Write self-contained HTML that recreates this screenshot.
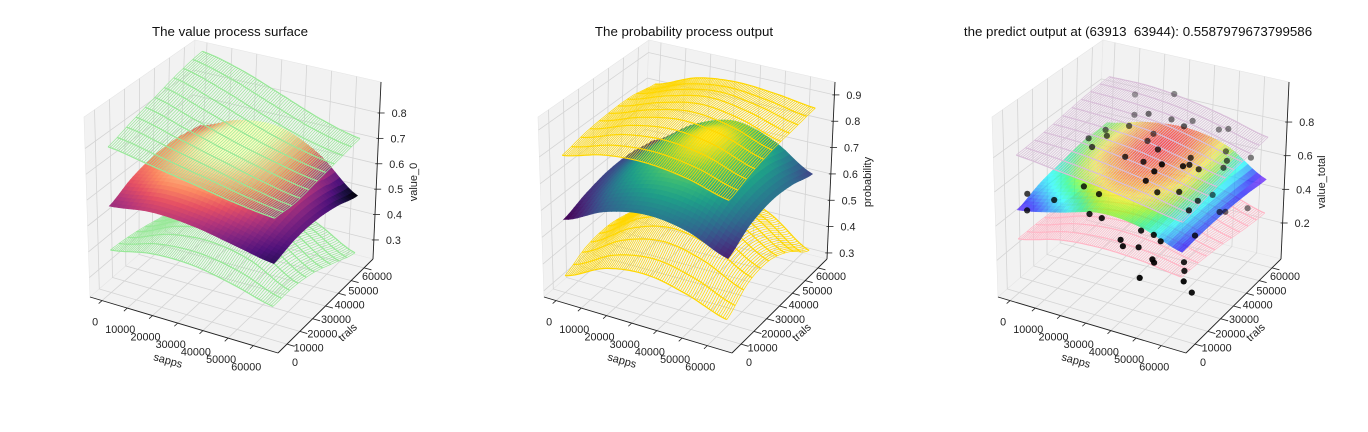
<!DOCTYPE html>
<html><head><meta charset="utf-8"><style>
html,body{margin:0;padding:0;background:#fff;}
svg{display:block;font-family:"Liberation Sans",sans-serif;}
</style></head><body>
<svg id="chart" width="1368" height="432" viewBox="0 0 1368 432"></svg>
<script>
// ---------- data ----------
const SAPPS = [0, 16000, 32000, 48000, 64000];
const TRIALS = [0, 16000, 32000, 48000, 64000];
const X_TICKS = [0, 10000, 20000, 30000, 40000, 50000, 60000];
const Y_TICKS = [0, 10000, 20000, 30000, 40000, 50000, 60000];
const Z_TICKS_1 = [0.3, 0.4, 0.5, 0.6, 0.7, 0.8];
const Z_TICKS_2 = [0.3, 0.4, 0.5, 0.6, 0.7, 0.8, 0.9];
const Z_TICKS_3 = [0.2, 0.4, 0.6, 0.8];
// rows = trials index, cols = sapps index
const P1_MEAN = [[0.56,0.58,0.57,0.54,0.51],[0.60,0.63,0.62,0.58,0.53],[0.62,0.66,0.66,0.61,0.53],[0.62,0.67,0.67,0.61,0.51],[0.60,0.66,0.67,0.60,0.475]];
const P1_UPPER = [[0.79,0.76,0.73,0.70,0.68],[0.82,0.78,0.74,0.70,0.67],[0.85,0.80,0.75,0.71,0.68],[0.88,0.83,0.77,0.72,0.69],[0.90,0.86,0.80,0.74,0.70]];
const P1_LOWER = [[0.39,0.42,0.42,0.39,0.35],[0.38,0.44,0.46,0.43,0.35],[0.36,0.43,0.46,0.42,0.33],[0.33,0.40,0.43,0.38,0.29],[0.30,0.36,0.38,0.33,0.25]];
const P2_MEAN = [[0.55,0.62,0.65,0.63,0.57],[0.58,0.67,0.71,0.69,0.62],[0.60,0.70,0.75,0.72,0.64],[0.60,0.70,0.76,0.72,0.63],[0.58,0.68,0.73,0.69,0.60]];
const P2_UPPER = [[0.79,0.83,0.84,0.82,0.78],[0.81,0.86,0.88,0.86,0.81],[0.82,0.87,0.90,0.88,0.83],[0.82,0.87,0.90,0.88,0.84],[0.80,0.86,0.88,0.87,0.85]];
const P2_LOWER = [[0.34,0.41,0.43,0.40,0.35],[0.38,0.47,0.51,0.48,0.41],[0.39,0.49,0.53,0.50,0.42],[0.37,0.47,0.51,0.47,0.38],[0.33,0.42,0.46,0.41,0.31]];
const P3_MEAN = [[0.47,0.52,0.58,0.56,0.48],[0.52,0.58,0.62,0.59,0.49],[0.55,0.62,0.65,0.61,0.49],[0.57,0.63,0.66,0.61,0.48],[0.57,0.63,0.65,0.60,0.46]];
const P3_UPPER = [[0.79,0.76,0.73,0.69,0.65],[0.80,0.79,0.76,0.72,0.67],[0.82,0.81,0.79,0.74,0.69],[0.84,0.83,0.81,0.76,0.70],[0.85,0.85,0.82,0.77,0.71]];
const P3_LOWER = [[0.30,0.36,0.38,0.37,0.34],[0.30,0.37,0.40,0.38,0.33],[0.29,0.37,0.40,0.37,0.31],[0.28,0.35,0.38,0.35,0.28],[0.27,0.33,0.36,0.33,0.26]];
const OBS_SAPPS = [14440,29960,18610,28300,33290,37610,24890,15730,42300,44190,47900,13310,20420,32160,30420,18830,40330,51230,31700,38820,49190,55620,57370,49870,52670,54110,52450,54410,46990,43740,21860,27690,44350,48960,50480,1880,12320,52450,3770,26030,30790,52900,42150,47150,49870,55550,38140,39050,43210,53500,53810,56910,48660,49340,55320,55550,45710,59180,60550];
const OBS_TRIALS = [56760,56760,49190,41620,49190,56760,34050,34050,41620,64330,64330,26480,26480,34050,41620,18910,26480,56760,18910,18910,34050,49190,64330,11340,26480,18910,34050,49190,11340,11340,7560,7560,18910,26480,49190,3770,3770,34050,0,3770,3770,26480,11340,11340,11340,26480,3770,3770,7560,49190,52980,64330,7560,7560,18910,18910,3770,11340,15130];
const OBS_VALUE = [0.840,0.898,0.783,0.873,0.808,0.764,0.838,0.781,0.849,0.684,0.701,0.771,0.812,0.776,0.762,0.789,0.805,0.631,0.780,0.777,0.739,0.643,0.563,0.852,0.761,0.808,0.684,0.597,0.801,0.735,0.644,0.622,0.621,0.590,0.423,0.547,0.552,0.500,0.482,0.525,0.520,0.498,0.442,0.437,0.411,0.362,0.424,0.391,0.376,0.333,0.309,0.260,0.328,0.312,0.260,0.211,0.236,0.218,0.133];

// ---------- geometry (styles) ----------
const XLIM = [-4800, 69800], YLIM = [-7000, 67000];
const C = {c000:[90,297],c100:[278,353],c110:[373,259],c010:[188,212],c001:[84,117],c101:[282,165],c111:[381,82],c011:[195,40]};
const NS = 'http://www.w3.org/2000/svg';
const svg = document.getElementById('chart');

function el(tag, attrs, name, parent){
  const e = document.createElementNS(NS, tag);
  for (const k in attrs) e.setAttribute(k, attrs[k]);
  
  
  (parent || svg).appendChild(e);
  return e;
}
function lerp(a,b,t){return [a[0]+(b[0]-a[0])*t, a[1]+(b[1]-a[1])*t];}
function proj(dx,x,y,z){
  const b0 = lerp(lerp(C.c000,C.c100,x), lerp(C.c010,C.c110,x), y);
  const b1 = lerp(lerp(C.c001,C.c101,x), lerp(C.c011,C.c111,x), y);
  const p = lerp(b0,b1,z);
  return [p[0]+dx, p[1]];
}
function xn(s){return (s-XLIM[0])/(XLIM[1]-XLIM[0]);}
function yn(t){return (t-YLIM[0])/(YLIM[1]-YLIM[0]);}
function cr(p0,p1,p2,p3,t){return 0.5*((2*p1)+(-p0+p2)*t+(2*p0-5*p1+4*p2-p3)*t*t+(-p0+3*p1-3*p2+p3)*t*t*t);}
function sample(G,u,v){
  const n = G.length-1, m = G[0].length-1;
  let i = Math.min(Math.floor(u), m-1), j = Math.min(Math.floor(v), n-1);
  const tu = u-i, tv = v-j;
  const ci = k => Math.max(0, Math.min(m, k)), cj = k => Math.max(0, Math.min(n, k));
  const rows = [];
  for (let r=-1; r<=2; r++){ const R = G[cj(j+r)]; rows.push(cr(R[ci(i-1)],R[ci(i)],R[ci(i+1)],R[ci(i+2)],tu)); }
  return cr(rows[0],rows[1],rows[2],rows[3],tv);
}
function axisVal(arr,u){const i=Math.min(Math.floor(u),arr.length-2);return arr[i]+(arr[i+1]-arr[i])*(u-i);}
function pstr(pts){return pts.map(p=>p[0].toFixed(1)+','+p[1].toFixed(1)).join(' ');}

const CMAPS = {
  magma:['#000004','#1c1044','#4f127b','#812581','#b5367a','#e55064','#fb8761','#fec287','#fcfdbf'],
  viridis:['#440154','#482878','#3e4989','#31688e','#26828e','#1f9e89','#35b779','#6ece58','#fde725'],
  rainbow_r:['#6a00ff','#0000ff','#0090ff','#00ffff','#00ff80','#80ff00','#ffff00','#ff8000','#ff0000']
};
function hex(h){return [parseInt(h.slice(1,3),16),parseInt(h.slice(3,5),16),parseInt(h.slice(5,7),16)];}
function cmap(name,t){
  const s = CMAPS[name]; t=Math.max(0,Math.min(1,t));
  const f=t*(s.length-1), i=Math.min(Math.floor(f),s.length-2), r=f-i;
  const a=hex(s[i]), b=hex(s[i+1]);
  return 'rgb('+a.map((v,k)=>Math.round(v+(b[k]-v)*r)).join(',')+')';
}

const PANELS = [
  {dx:0, zlim:[0.225,0.922], zticks:Z_TICKS_1, mean:P1_MEAN, upper:P1_UPPER, lower:P1_LOWER, cm:'magma', wire:'#98e898', wireU:'#98e898', alpha:1, title:'The value process surface', zlabel:'value_0', key:'value'},
  {dx:454, zlim:[0.277,0.949], zticks:Z_TICKS_2, mean:P2_MEAN, upper:P2_UPPER, lower:P2_LOWER, cm:'viridis', wire:'#ffd700', wireU:'#ffd700', alpha:1, title:'The probability process output', zlabel:'probability', key:'probability'},
  {dx:908, zlim:[-0.014,1.038], zticks:Z_TICKS_3, mean:P3_MEAN, upper:P3_UPPER, lower:P3_LOWER, cm:'rainbow_r', wire:'#ffb6c6', wireU:'#d8bfd8', alpha:0.65, title:'the predict output at (63913  63944): 0.5587979673799586', zlabel:'value_total', key:'predict'}
];

PANELS.forEach((P,pi)=>{
  const g = el('g',{},'panel-'+P.key);
  const zn = z => (z-P.zlim[0])/(P.zlim[1]-P.zlim[0]);
  const pr = (x,y,z) => proj(P.dx,x,y,z);
  // panes
  el('polygon',{points:pstr([pr(0,0,0),pr(0,1,0),pr(0,1,1),pr(0,0,1)]),fill:'#f2f2f2',stroke:'#e6e6e6','stroke-width':0.6},'left-pane',g);
  el('polygon',{points:pstr([pr(0,1,0),pr(1,1,0),pr(1,1,1),pr(0,1,1)]),fill:'#f2f2f2',stroke:'#e6e6e6','stroke-width':0.6},'back-pane',g);
  el('polygon',{points:pstr([pr(0,0,0),pr(1,0,0),pr(1,1,0),pr(0,1,0)]),fill:'#f2f2f2',stroke:'#e6e6e6','stroke-width':0.6},'floor-pane',g);
  const grid = el('g',{stroke:'#d4d4d4','stroke-width':0.8,fill:'none'},'gridlines',g);
  X_TICKS.forEach(t=>{const x=xn(t);
    el('polyline',{points:pstr([pr(x,0,0),pr(x,1,0),pr(x,1,1)])},'x-gridline',grid);});
  Y_TICKS.forEach(t=>{const y=yn(t);
    el('polyline',{points:pstr([pr(1,y,0),pr(0,y,0),pr(0,y,1)])},'y-gridline',grid);});
  P.zticks.forEach(t=>{const z=zn(t);
    el('polyline',{points:pstr([pr(0,0,z),pr(0,1,z),pr(1,1,z)])},'z-gridline',grid);});
  // axes
  const ax = el('g',{stroke:'#222','stroke-width':0.9,fill:'none'},'axes-lines',g);
  el('line',{x1:pr(0,0,0)[0],y1:pr(0,0,0)[1],x2:pr(1,0,0)[0],y2:pr(1,0,0)[1]},'x-axis-line',ax);
  el('line',{x1:pr(1,0,0)[0],y1:pr(1,0,0)[1],x2:pr(1,1,0)[0],y2:pr(1,1,0)[1]},'y-axis-line',ax);
  el('line',{x1:pr(1,1,0)[0],y1:pr(1,1,0)[1],x2:pr(1,1,1)[0],y2:pr(1,1,1)[1]},'z-axis-line',ax);
  const lab = el('g',{'font-size':'10.8px',fill:'#222','text-anchor':'middle'},'tick-labels',g);
  X_TICKS.forEach(t=>{const a=pr(xn(t),0,0), b=pr(xn(t),-0.035,0);
    el('line',{x1:a[0],y1:a[1],x2:b[0],y2:b[1],stroke:'#222','stroke-width':0.8},'x-tick',g);
    const tx=el('text',{x:a[0]-7,y:a[1]+25},'x-tick-label',lab); tx.textContent=String(t);});
  Y_TICKS.forEach((t,k)=>{const a=pr(1,yn(t),0), b=pr(1.04,yn(t),0), f=k/(Y_TICKS.length-1);
    el('line',{x1:a[0],y1:a[1],x2:b[0],y2:b[1],stroke:'#222','stroke-width':0.8},'y-tick',g);
    const tx=el('text',{x:a[0]+8+5*f,y:a[1]+22-10*f},'y-tick-label',lab); tx.textContent=String(t);});
  P.zticks.forEach(t=>{const a=pr(1,1,zn(t));
    el('line',{x1:a[0]-2,y1:a[1],x2:a[0]+5,y2:a[1],stroke:'#222','stroke-width':0.8},'z-tick',g);
    const tx=el('text',{x:a[0]+12,y:a[1]+4,'text-anchor':'start'},'z-tick-label',lab); tx.textContent=t.toFixed(1);});
  // axis titles
  const at = el('g',{'font-size':'11px',fill:'#222','text-anchor':'middle'},'axis-titles',g);
  let t1=el('text',{transform:'translate('+(167+P.dx)+',364) rotate(16)'},'x-axis-title',at); t1.textContent='sapps';
  let t2=el('text',{transform:'translate('+(350+P.dx)+',335) rotate(-42)'},'y-axis-title',at); t2.textContent='trals';
  let t3=el('text',{transform:'translate('+(417+P.dx)+',182) rotate(-90)'},'z-axis-title',at); t3.textContent=P.zlabel;
  let tt=el('text',{x:230+P.dx,y:36,'font-size':'13.3px',fill:'#111','text-anchor':'middle',style:'white-space:pre'},'chart-title',g); tt.textContent=P.title;

  const nu=SAPPS.length-1, nv=TRIALS.length-1;
  function wire(G,color,name){
    const wg=el('g',{stroke:color,'stroke-width':0.7,fill:'none'},name,g);
    const ND=80, NSp=10, NP=30;
    for(let a=0;a<=ND;a++){const u=a/ND*nu, pts=[];
      for(let b=0;b<=NP;b++){const v=b/NP*nv; pts.push(pr(xn(axisVal(SAPPS,u)),yn(axisVal(TRIALS,v)),zn(sample(G,u,v))));}
      el('polyline',{points:pstr(pts)},'wire-line',wg);}
    for(let b=0;b<=NSp;b++){const v=b/NSp*nv, pts=[];
      for(let a=0;a<=NP*2;a++){const u=a/(NP*2)*nu; pts.push(pr(xn(axisVal(SAPPS,u)),yn(axisVal(TRIALS,v)),zn(sample(G,u,v))));}
      el('polyline',{points:pstr(pts),'stroke-width':1.2},'wire-line',wg);}
  }
  function surface(G){
    const sg=el('g',{opacity:P.alpha},'mean-surface',g);
    const flat=G.flat(), mn=Math.min(...flat), mx=Math.max(...flat);
    const N=34, quads=[];
    for(let a=0;a<N;a++)for(let b=0;b<N;b++){
      const us=[a/N*nu,(a+1)/N*nu], vs=[b/N*nv,(b+1)/N*nv];
      const c=[[us[0],vs[0]],[us[1],vs[0]],[us[1],vs[1]],[us[0],vs[1]]].map(([u,v])=>{const z=sample(G,u,v);return {x:xn(axisVal(SAPPS,u)),y:yn(axisVal(TRIALS,v)),z:z};});
      const zm=c.reduce((s,q)=>s+q.z,0)/4, xm=c.reduce((s,q)=>s+q.x,0)/4, ym=c.reduce((s,q)=>s+q.y,0)/4;
      quads.push({pts:c.map(q=>pr(q.x,q.y,zn(q.z))),col:cmap(P.cm,(zm-mn)/(mx-mn)),d:0.433*xm-0.75*ym+0.5*zn(zm)});
    }
    quads.sort((p,q)=>p.d-q.d);
    quads.forEach(q=>el('polygon',{points:pstr(q.pts),fill:q.col,stroke:q.col,'stroke-width':0.6},'surface-patch',sg));
  }
  wire(P.lower,P.wire,'lower-bound-wireframe');
  surface(P.mean);
  wire(P.upper,P.wireU,'upper-bound-wireframe');
  if(pi===2){
    const dg=el('g',{},'observed-points',g);
    const ds=OBS_SAPPS.map((s,k)=>0.433*xn(s)-0.75*yn(OBS_TRIALS[k]));
    const dmin=Math.min(...ds), dmax=Math.max(...ds);
    const order=OBS_SAPPS.map((s,k)=>k).sort((a,b)=>ds[a]-ds[b]);
    order.forEach(k=>{const p=pr(xn(OBS_SAPPS[k]),yn(OBS_TRIALS[k]),zn(OBS_VALUE[k]));
      const op=0.35+0.6*(ds[k]-dmin)/(dmax-dmin);
      el('circle',{cx:p[0].toFixed(1),cy:p[1].toFixed(1),r:3.1,fill:'#000','fill-opacity':op.toFixed(2)},'observed-point',dg);});
  }
});
</script>
</body></html>
